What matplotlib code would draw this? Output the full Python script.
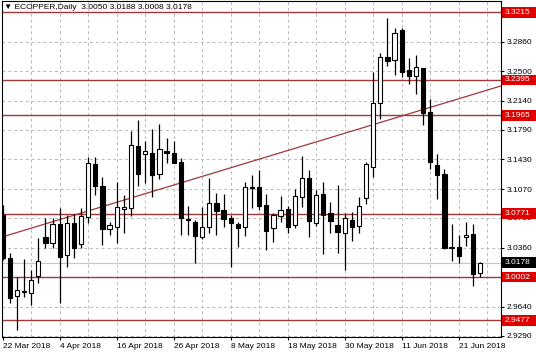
import matplotlib
matplotlib.use("Agg")
import matplotlib.pyplot as plt
import matplotlib.transforms as mtransforms
from matplotlib.patches import Rectangle

plt.rcParams["font.family"] = ["Liberation Sans", "DejaVu Sans"]

##### Data #####
opens = [3.0754, 3.0229, 2.9772, 2.9820, 2.9804, 3.0018, 3.0492, 3.0419, 3.0645, 3.0269,
         3.0653, 3.0403, 3.0726, 3.1373, 3.1106, 3.0581, 3.0613, 3.0824, 3.0836, 3.1592,
         3.1495, 3.1503, 3.1252, 3.1531, 3.1511, 3.1402, 3.0706, 3.0674, 3.0483, 3.0605,
         3.0904, 3.0815, 3.0722, 3.0645, 3.0605, 3.1098, 3.1090, 3.0876, 3.0593, 3.0742,
         3.0823, 3.0633, 3.0977, 3.1199, 3.0653, 3.1009, 3.0783, 3.0633, 3.0540, 3.0694,
         3.0625, 3.0957, 3.1342, 3.2110, 3.2668, 3.2636, 3.3000, 3.2515, 3.2442, 3.2535,
         3.2009, 3.1362, 3.1252, 3.0350, 3.0362, 3.0484, 3.0524, 3.0050]
highs = [3.0876, 3.0289, 3.0006, 3.0216, 3.0087, 3.0471, 3.0714, 3.0714, 3.0835, 3.0754,
         3.0770, 3.0835, 3.1454, 3.1454, 3.1220, 3.0674, 3.1159, 3.0997, 3.1778, 3.1907,
         3.1657, 3.1794, 3.1859, 3.1685, 3.1657, 3.1442, 3.0864, 3.0690, 3.0856, 3.1199,
         3.1025, 3.1009, 3.0755, 3.0674, 3.1159, 3.1240, 3.1301, 3.1009, 3.0783, 3.0985,
         3.0864, 3.1066, 3.1470, 3.1301, 3.1058, 3.1159, 3.0916, 3.1118, 3.0775, 3.0795,
         3.0977, 3.1402, 3.2494, 3.2725, 3.3142, 3.3020, 3.3020, 3.2656, 3.2697, 3.2540,
         3.2159, 3.1495, 3.1309, 3.0646, 3.0512, 3.0674, 3.0646, 3.0188]
lows = [3.0210, 2.9683, 2.9359, 2.9763, 2.9662, 2.9925, 3.0350, 3.0350, 2.9683, 3.0128,
        3.0229, 3.0350, 3.0661, 3.0997, 3.0390, 3.0512, 3.0419, 3.0532, 3.0742, 3.1106,
        3.1139, 3.0969, 3.1187, 3.1381, 3.1380, 3.0512, 3.0512, 3.0176, 3.0459, 3.0540,
        3.0512, 3.0613, 3.0119, 3.0370, 3.0500, 3.0835, 3.0815, 3.0330, 3.0431, 3.0674,
        3.0540, 3.0593, 3.0856, 3.0492, 3.0621, 3.0281, 3.0532, 3.0297, 3.0088, 3.0444,
        3.0533, 3.0888, 3.1220, 3.1916, 3.2563, 3.2454, 3.2434, 3.2345, 3.2223, 3.1847,
        3.1309, 3.0945, 3.0340, 3.0201, 3.0168, 3.0379, 2.9893, 3.0008]
closes = [3.0229, 2.9743, 2.9844, 2.9828, 2.9966, 3.0200, 3.0411, 3.0645, 3.0241, 3.0661,
          3.0350, 3.0742, 3.1390, 3.1106, 3.0581, 3.0633, 3.0848, 3.0848, 3.1604, 3.1252,
          3.1535, 3.1240, 3.1551, 3.1503, 3.1390, 3.0714, 3.0698, 3.0500, 3.0613, 3.0904,
          3.0807, 3.0702, 3.0653, 3.0593, 3.1090, 3.1078, 3.0864, 3.0564, 3.0754, 3.0815,
          3.0605, 3.0989, 3.1207, 3.0686, 3.0997, 3.0754, 3.0686, 3.0552, 3.0714, 3.0613,
          3.0868, 3.1370, 3.2118, 3.2668, 3.2624, 3.2968, 3.2494, 3.2442, 3.2555, 3.1989,
          3.1402, 3.1240, 3.0350, 3.0370, 3.0257, 3.0512, 3.0039, 3.0178]

date_tick_pos = [0, 8, 16, 24, 32, 40, 48, 56, 64]
date_labels = ["22 Mar 2018", "4 Apr 2018", "16 Apr 2018", "26 Apr 2018", "8 May 2018",
               "18 May 2018", "30 May 2018", "11 Jun 2018", "21 Jun 2018"]
price_ticks = [3.2860, 3.2500, 3.2140, 3.1790, 3.1430, 3.1070, 3.0720, 3.0360, 3.0000, 2.9640, 2.9290]
hidden_ticks = [3.0000]  # label sits under the 3.0002 box
levels = [3.3215, 3.2395, 3.1965, 3.0771, 3.0002, 2.9477]
bid = 3.0178
trend_x = [0, 69.9]
trend_y = [3.0490, 3.2320]
title = "\u25bc ECOPPER,Daily  3.0050 3.0188 3.0008 3.0178"

LEVEL_COLOR = "#a03838"
LABEL_RED = "#e00000"
GRID_COLOR = "#b8b8b8"

##### Figure #####
W, H = 536, 357
fig = plt.figure(figsize=(W / 100, H / 100), dpi=100)
ax = fig.add_axes([2 / W, 1 - 337 / H, 498.7 / W, 336 / H])
ax.set_xlim(-0.1, 69.9)
ax.set_ylim(2.9274, 3.3352)

# grid
for p in price_ticks:
    ax.axhline(p, color=GRID_COLOR, lw=0.7, ls=(0, (3, 3)), zorder=0)
for i in range(4, 70, 4):
    ax.axvline(i, color=GRID_COLOR, lw=0.7, ls=(0, (3, 3)), zorder=0)

# bid line, levels and trend line
ax.axhline(bid, color="#c8c8c8", lw=0.9, zorder=1)
for lv in levels:
    ax.axhline(lv, color=LEVEL_COLOR, lw=1.0, zorder=1)
ax.plot(trend_x, trend_y, color=LEVEL_COLOR, lw=0.9, zorder=1)

# candles
idx = list(range(len(opens)))
ax.vlines(idx, lows, highs, color="black", lw=0.9, zorder=2)
bottoms = [min(o, c) for o, c in zip(opens, closes)]
heights = [abs(c - o) for o, c in zip(opens, closes)]
colors = ["white" if c >= o else "black" for o, c in zip(opens, closes)]
ax.bar(idx, heights, bottom=bottoms, width=0.6, color=colors,
       edgecolor="black", linewidth=0.8, zorder=3)

# axes styling
for s in ax.spines.values():
    s.set_color("black")
    s.set_linewidth(0.8)
ax.yaxis.tick_right()
ax.set_yticks(price_ticks)
ax.set_yticklabels(["" if p in hidden_ticks else "%.4f" % p for p in price_ticks])
ax.set_xticks(date_tick_pos)
ax.set_xticklabels(date_labels, ha="left")
ax.tick_params(axis="both", labelsize=6, length=2.5, width=0.8, pad=1.5, colors="black")
ax.tick_params(axis="x", pad=2)

# price labels on the right
trans = mtransforms.blended_transform_factory(fig.transFigure, ax.transData)
box_h = 10.5 / 824
for lv, fc in [(l, LABEL_RED) for l in levels] + [(bid, "black")]:
    ax.add_patch(Rectangle((502 / W, lv - box_h / 2), 33.5 / W, box_h, transform=trans,
                           facecolor=fc, edgecolor="none", clip_on=False, zorder=10))
    ax.text(504.5 / W, lv, "%.4f" % lv, transform=trans, color="white", fontsize=6,
            ha="left", va="center", clip_on=False, zorder=11)

fig.text(4 / W, 1 - 7.5 / H, title, fontsize=6, ha="left", va="center", color="black")

fig.savefig("out.png", dpi=100)
